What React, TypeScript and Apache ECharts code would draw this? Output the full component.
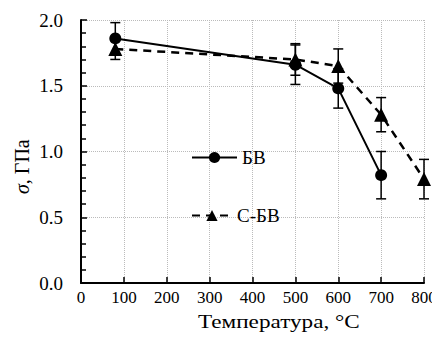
import React, { useEffect, useRef } from "react";
import * as echarts from "echarts";

const xTicks = [0, 100, 200, 300, 400, 500, 600, 700, 800];
const bvTemps = [80, 500, 600, 700];
const bvValues = [1.86, 1.66, 1.48, 0.82];
const bvErrors = [0.12, 0.15, 0.15, 0.18];
const cbvTemps = [80, 500, 600, 700, 800];
const cbvValues = [1.78, 1.7, 1.65, 1.28, 0.79];
const cbvErrors = [0.08, 0.12, 0.13, 0.13, 0.15];

const FONT = "Liberation Serif";

function errSeries(temps: number[], vals: number[], errs: number[]) {
  return {
    type: "custom",
    silent: true,
    z: 1,
    data: temps.map((t, i) => [t, vals[i] - errs[i], vals[i] + errs[i]]),
    renderItem: (params: any, api: any) => {
      const lo = api.coord([api.value(0), api.value(1)]);
      const hi = api.coord([api.value(0), api.value(2)]);
      const w = 5;
      const style = { stroke: "#000", lineWidth: 1.5 };
      return {
        type: "group",
        children: [
          { type: "line", shape: { x1: lo[0], y1: lo[1], x2: hi[0], y2: hi[1] }, style },
          { type: "line", shape: { x1: lo[0] - w, y1: lo[1], x2: lo[0] + w, y2: lo[1] }, style },
          { type: "line", shape: { x1: hi[0] - w, y1: hi[1], x2: hi[0] + w, y2: hi[1] }, style },
        ],
      };
    },
  };
}

export default function App() {
  const ref = useRef<HTMLDivElement>(null);
  useEffect(() => {
    const chart = echarts.init(ref.current!, null, { renderer: "svg" });
    chart.setOption({
      animation: false,
      backgroundColor: "#fff",
      textStyle: { fontFamily: FONT },
      grid: { left: 81, right: 16, top: 20, bottom: 58, containLabel: false, outerBoundsMode: "none" },
      legend: [
        {
          data: ["БВ"],
          left: 186,
          top: 143,
          itemWidth: 45,
          itemHeight: 14,
          textStyle: { fontFamily: FONT, fontSize: 19, color: "#000" },
        },
        {
          data: ["С-БВ"],
          left: 186,
          top: 201,
          itemWidth: 40,
          itemHeight: 14,
          textStyle: { fontFamily: FONT, fontSize: 19, color: "#000" },
        },
      ],
      xAxis: {
        type: "value",
        min: 0,
        max: 800,
        interval: 100,
        axisLine: { show: true, lineStyle: { color: "#000", width: 2 } },
        axisTick: { show: true, inside: true, length: 6, lineStyle: { color: "#000", width: 1.5 } },
        axisLabel: {
          fontFamily: FONT,
          fontSize: 17,
          color: "#000",
          margin: 6,
          hideOverlap: false,
          formatter: (v: number) => (xTicks.includes(v) ? String(v) : ""),
        },
        splitLine: { show: true, lineStyle: { color: "#bbb", type: "dotted", width: 1 } },
      },
      yAxis: {
        type: "value",
        min: 0,
        max: 2,
        interval: 0.5,
        axisLine: { show: true, lineStyle: { color: "#000", width: 2 } },
        axisTick: { show: true, inside: true, length: 6, lineStyle: { color: "#000", width: 1.5 } },
        minorTick: { show: true, splitNumber: 5, length: 5, lineStyle: { color: "#000", width: 1.5 } },
        axisLabel: {
          fontFamily: FONT,
          fontSize: 19,
          color: "#000",
          margin: 18,
          formatter: (v: number) => v.toFixed(1),
        },
        splitLine: { show: true, lineStyle: { color: "#bbb", type: "dotted", width: 1 } },
      },
      graphic: [
        {
          type: "text",
          x: 198,
          y: 312,
          scaleX: 1.22,
          style: {
            text: "Температура, °C",
            fontFamily: FONT,
            fontSize: 19,
            fill: "#000",
            verticalAlign: "top",
          },
        },
        {
          type: "text",
          x: 12,
          y: 194,
          rotation: Math.PI / 2,
          style: {
            text: "{i|σ}{n|, ГПа}",
            fill: "#000",
            rich: {
              i: { fontFamily: FONT, fontSize: 20, fontStyle: "italic", fill: "#000" },
              n: { fontFamily: FONT, fontSize: 20, fill: "#000" },
            },
          },
        },
      ],
      series: [
        errSeries(bvTemps, bvValues, bvErrors),
        errSeries(cbvTemps, cbvValues, cbvErrors),
        {
          name: "БВ",
          type: "line",
          z: 3,
          data: bvTemps.map((t, i) => [t, bvValues[i]]),
          symbol: "circle",
          symbolSize: 12,
          itemStyle: { color: "#000" },
          lineStyle: { color: "#000", width: 2 },
        },
        {
          name: "С-БВ",
          type: "line",
          z: 2,
          data: cbvTemps.map((t, i) => [t, cbvValues[i]]),
          symbol: "triangle",
          symbolSize: 14,
          itemStyle: { color: "#000" },
          lineStyle: { color: "#000", width: 2.5, type: [8, 6] },
        },
      ],
    });
    return () => chart.dispose();
  }, []);
  return <div ref={ref} style={{ width: 440, height: 341, margin: -8 }} />;
}
